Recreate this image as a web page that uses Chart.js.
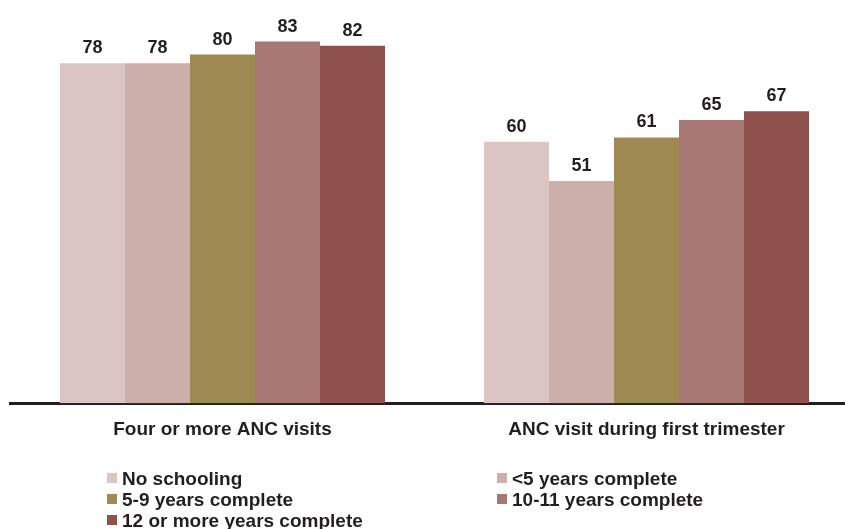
<!DOCTYPE html>
<html>
<head>
<meta charset="utf-8">
<script src="https://cdn.jsdelivr.net/npm/chart.js@4.4.1/dist/chart.umd.min.js"></script>
<style>
  html, body { margin: 0; padding: 0; background: #ffffff; overflow: hidden; width: 845px; height: 529px; }
  #wrap { position: absolute; left: 0; top: 0; width: 860px; height: 529px; }
  #legend { position: absolute; left: 0; top: 0; width: 845px; height: 529px; pointer-events: none;
            font-family: "Liberation Sans", Arial, sans-serif; font-weight: bold; font-size: 19px; color: #231f20; }
  .item { position: absolute; height: 21px; line-height: 21px; white-space: nowrap; }
  .sw { position: absolute; left: 0; top: 5px; width: 10px; height: 10px; }
  .txt { position: absolute; left: 15px; top: 0; }
</style>
</head>
<body>
<div id="wrap"><canvas id="c"></canvas></div>
<div id="legend"></div>
<script>
// ---- data ----
const categories = ["Four or more ANC visits", "ANC visit during first trimester"];
const seriesNames = ["No schooling", "<5 years complete", "5-9 years complete", "10-11 years complete", "12 or more years complete"];
const noSchooling = [78, 60];
const lessThan5 = [78, 51];
const years5to9 = [80, 61];
const years10to11 = [83, 65];
const years12plus = [82, 67];
const seriesValues = [noSchooling, lessThan5, years5to9, years10to11, years12plus];

// ---- styles ----
const seriesColors = ["#dbc5c3", "#ccafaa", "#a08a53", "#a67773", "#8e514b"];
const textColor = "#231f20";
const fontFamily = '"Liberation Sans", Arial, sans-serif';

const valueLabels = {
  id: 'valueLabels',
  afterDatasetsDraw(chart) {
    const ctx = chart.ctx;
    ctx.save();
    ctx.font = 'bold 18px ' + fontFamily;
    ctx.fillStyle = textColor;
    ctx.textAlign = 'center';
    ctx.textBaseline = 'alphabetic';
    chart.data.datasets.forEach((ds, i) => {
      const meta = chart.getDatasetMeta(i);
      meta.data.forEach((bar, j) => {
        ctx.fillText(String(ds.data[j]), bar.x, bar.y - 10);
      });
    });
    ctx.restore();
  }
};

const chart = new Chart(document.getElementById('c'), {
  type: 'bar',
  data: {
    labels: categories,
    datasets: seriesNames.map((name, i) => ({
      label: name,
      data: seriesValues[i],
      backgroundColor: seriesColors[i],
      borderWidth: 0,
      categoryPercentage: 0.7665,
      barPercentage: 1.0
    }))
  },
  options: {
    responsive: true,
    maintainAspectRatio: false,
    animation: false,
    layout: { padding: { left: 10.5, right: 1.5, top: 11, bottom: 73 } },
    plugins: { legend: { display: false }, tooltip: { enabled: false } },
    scales: {
      x: {
        grid: { display: false, drawTicks: false },
        border: { display: true, color: textColor, width: 3 },
        ticks: { color: textColor, font: { family: fontFamily, size: 19, weight: 'bold' }, padding: 15, maxRotation: 0 }
      },
      y: {
        display: false,
        min: 0,
        max: 90
      }
    }
  },
  plugins: [valueLabels]
});

// ---- HTML legend (two columns) ----
const legend = document.getElementById('legend');
const colX = [107, 497];
const rowY = [468, 489, 510];
seriesNames.forEach((name, i) => {
  const item = document.createElement('div');
  item.className = 'item';
  item.style.left = colX[i % 2] + 'px';
  item.style.top = rowY[Math.floor(i / 2)] + 'px';
  const sw = document.createElement('span');
  sw.className = 'sw';
  sw.style.background = seriesColors[i];
  const t = document.createElement('span');
  t.className = 'txt';
  t.textContent = name;
  item.appendChild(sw);
  item.appendChild(t);
  legend.appendChild(item);
});
</script>
</body>
</html>
